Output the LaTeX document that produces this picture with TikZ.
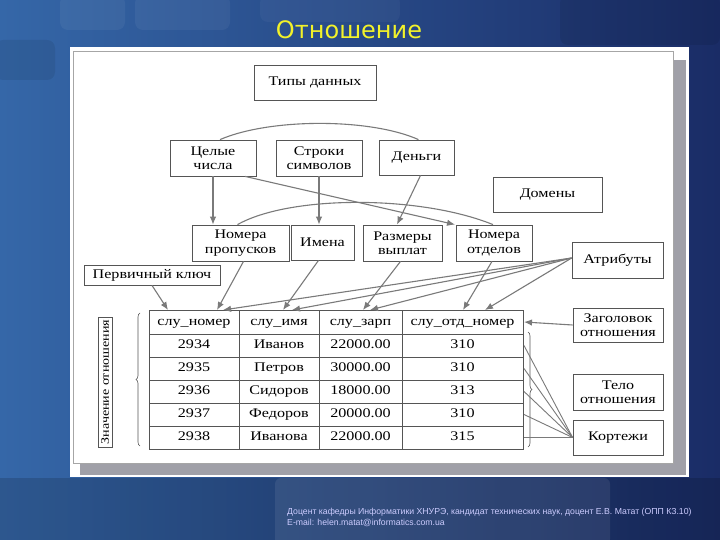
\documentclass[tikz,border=0pt]{standalone}
\usepackage{fontspec}
\setmainfont{Liberation Serif}[FakeStretch=1.22]
\newfontfamily\titlefont{DejaVu Sans}
\newfontfamily\footfont{Liberation Sans}
\usetikzlibrary{arrows.meta,decorations.pathreplacing,calc}
\definecolor{bgL}{HTML}{3567A8}
\definecolor{bgR}{HTML}{1A2C66}
\definecolor{boxc}{HTML}{555555}
\definecolor{arrc}{HTML}{7A7A7A}
\definecolor{shadowg}{HTML}{A0A0A8}
\definecolor{titley}{HTML}{F2F22A}
\begin{document}
\begin{tikzpicture}[x=1pt,y=-1pt,
  box/.style={draw=boxc, line width=0.8pt, fill=white, inner sep=1pt, align=center,
    font=\fontsize{13.2}{14.5}\selectfont},
  arr/.style={draw=arrc, line width=1.1pt, -{Latex[length=8pt,width=6.5pt]}},
  ln/.style={draw=arrc, line width=1.1pt},
  kln/.style={draw=arrc, line width=0.9pt},
  tbl/.style={draw=boxc, line width=0.9pt},
  cell/.style={inner sep=0pt, text height=9.5pt, text depth=3pt, font=\fontsize{13.2}{14.5}\selectfont},
  brc/.style={draw=boxc, line width=0.6pt, decorate, decoration={brace, amplitude=4pt}},
  foot/.style={text=white!80!blue, font=\footfont\fontsize{8.7}{9}\selectfont, inner sep=0pt, anchor=west}
]
\useasboundingbox (0,0) rectangle (720,540);
% background
\fill[left color=bgL, right color=bgR] (0,0) rectangle (720,540);
\fill[white, opacity=0.05, rounded corners=8] (60,-5) rectangle (125,30);
\fill[white, opacity=0.05, rounded corners=8] (135,-5) rectangle (230,30);
\fill[black, opacity=0.08, rounded corners=8] (-5,40) rectangle (55,80);
\fill[white, opacity=0.04, rounded corners=8] (260,-5) rectangle (400,22);
\fill[black, opacity=0.08, rounded corners=8] (560,-5) rectangle (720,45);
\fill[black, opacity=0.15] (0,478) rectangle (720,540);
\fill[white, opacity=0.08, rounded corners=6] (275,478) rectangle (610,545);
% title
\node[text=titley, font=\titlefont\fontsize{24}{26}\selectfont, inner sep=0pt] (title) at (349,30) {Отношение};
% panel
\fill[white] (70,47) rectangle (689,477);
\fill[shadowg] (80,60) rectangle (686,475);
\filldraw[fill=white, draw=gray!70, line width=0.5pt] (73,51) rectangle (673,463);

% nodes
\node[box, minimum width=122, minimum height=35] (types) at (315,82.5) {Типы данных};
\node[box, minimum width=86, minimum height=36] (cel) at (213,158) {Целые\\числа};
\node[box, minimum width=86, minimum height=36] (str) at (319,158) {Строки\\символов};
\node[box, minimum width=75, minimum height=35] (money) at (416.5,157.5) {Деньги};
\node[box, minimum width=109, minimum height=35] (dom) at (547.5,194.5) {Домены};
\node[box, minimum width=97, minimum height=36] (npr) at (240.5,243) {Номера\\пропусков};
\node[box, minimum width=63, minimum height=35] (names) at (322.5,242.5) {Имена};
\node[box, minimum width=79, minimum height=36] (sizes) at (402.5,243) {Размеры\\выплат};
\node[box, minimum width=76, minimum height=36] (nod) at (494,243) {Номера\\отделов};
\node[box, minimum width=91, minimum height=36] (attr) at (617.5,260) {Атрибуты};
\node[box, minimum width=136, minimum height=20, inner sep=0pt] (pk) at (152,275) {Первичный ключ};
\node[box, minimum width=90, minimum height=34] (zag) at (618,325) {Заголовок\\отношения};
\node[box, minimum width=90, minimum height=36] (body) at (618,392) {Тело\\отношения};
\node[box, minimum width=90, minimum height=35] (kort) at (618,437.5) {Кортежи};
\node[box, rotate=90, minimum width=130, minimum height=14, inner sep=0pt, font=\fontsize{11.5}{12}\selectfont] (val) at (105,382) {Значение отношения};

% table
\draw[tbl] (149,310) rectangle (523,449);
\foreach \yy in {334,357,380,403,426} \draw[tbl] (149,\yy) -- (523,\yy);
\foreach \xx in {239,319,402} \draw[tbl] (\xx,310) -- (\xx,449);
\node[cell] (h1) at (194,322) {слу\_номер};
\node[cell] (h2) at (279,322) {слу\_имя};
\node[cell] (h3) at (360.5,322) {слу\_зарп};
\node[cell] (h4) at (462.5,322) {слу\_отд\_номер};
\foreach \n/\nm/\sal/\dep [count=\i] in {2934/Иванов/22000.00/310, 2935/Петров/30000.00/310, 2936/Сидоров/18000.00/313, 2937/Федоров/20000.00/310, 2938/Иванова/22000.00/315}{
  \node[cell] (r\i c1) at (194,322+23*\i) {\n};
  \node[cell] (r\i c2) at (279,322+23*\i) {\nm};
  \node[cell] (r\i c3) at (360.5,322+23*\i) {\sal};
  \node[cell] (r\i c4) at (462.5,322+23*\i) {\dep};
}

% braces
\draw[brc] (140,446) -- (140,313);
\draw[brc] (528,332) -- (528,447);

% domain connectors
\draw[ln] ([xshift=7]cel.north) .. controls (270,118) and (370,118) .. ([xshift=2]money.north);
\draw[ln] ([xshift=-3]npr.north) .. controls (290,195) and (420,195) .. ([xshift=-1]nod.north);
\draw[arr] (cel.south) -- (cel.south |- npr.north);
\draw[arr] (str.south) -- (str.south |- names.north);
\draw[arr] ([xshift=4]money.south) -- ([xshift=-5.5]sizes.north);
\draw[arr] ([xshift=32]cel.south) -- ([xshift=-39]nod.north);

% table-top endpoints
\coordinate (pkT) at (168,310);
\coordinate (c1) at (217,310);
\coordinate (c2) at (283,310);
\coordinate (c3) at (363,310);
\coordinate (c4) at (463,310);
\coordinate (a1) at (223,310);
\coordinate (a2) at (292,310);
\coordinate (a3) at (370,310);
\coordinate (a4) at (485,310);
\draw[arr] (pk.south) -- (pkT);
\draw[arr] ([xshift=3]npr.south) -- (c1);
\draw[arr] ([xshift=-4]names.south) -- (c2);
\draw[arr] ([xshift=-2]sizes.south) -- (c3);
\draw[arr] ([xshift=-2]nod.south) -- (c4);
\foreach \t in {a1,a2,a3,a4} \draw[arr] ([yshift=2]attr.west) -- (\t);

% header and tuples
\coordinate (zT) at (524,322);
\draw[arr] (zag.west) -- (zT);
\foreach \yy [count=\i] in {345.5,368.5,391.5,414.5,437.5}{
  \coordinate (k\i) at (524,\yy);
  \draw[kln] (kort.west) -- (k\i);
}

% footer
\node[foot] (f1) at (287,512) {Доцент кафедры Информатики ХНУРЭ, кандидат технических наук, доцент Е.В. Матат (ОПП КЗ.10)};
\node[foot] (f2) at (287,523) {E-mail: helen.matat@informatics.com.ua};
\end{tikzpicture}
\end{document}
